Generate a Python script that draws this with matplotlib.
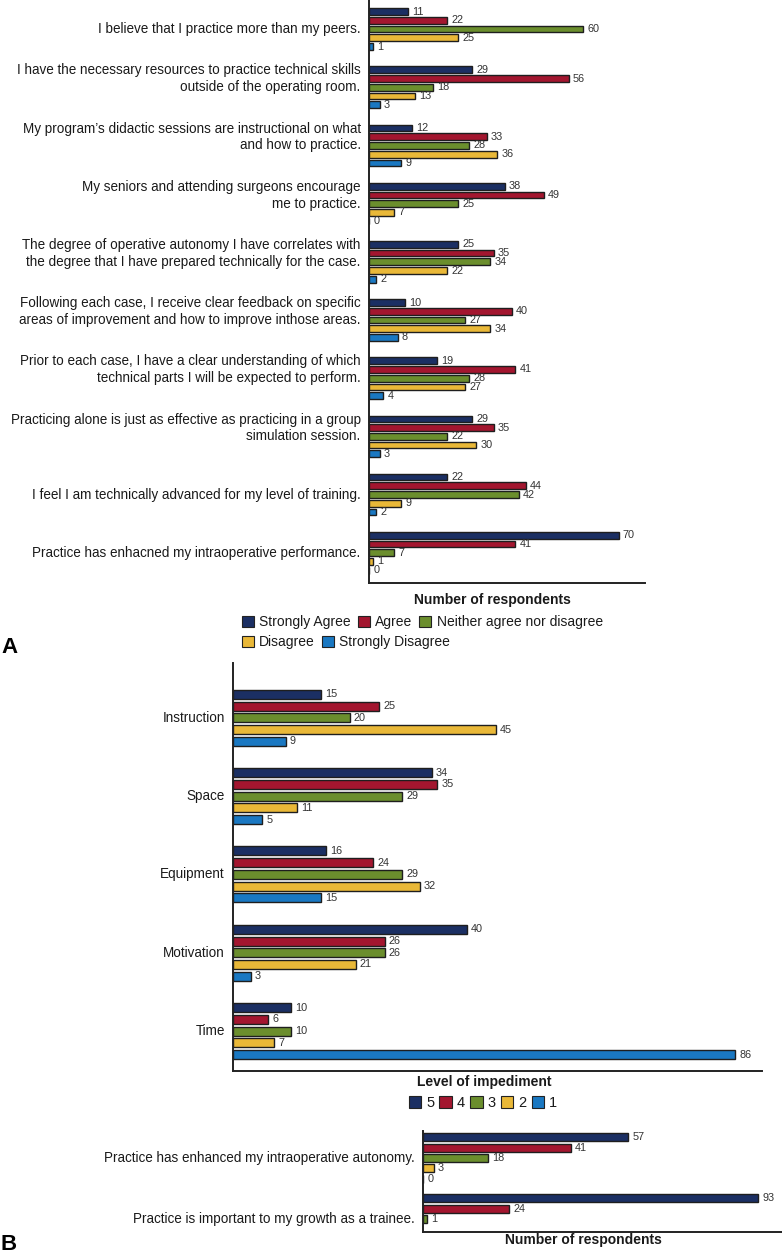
import matplotlib
matplotlib.use("Agg")
import numpy as np
import matplotlib.pyplot as plt
from matplotlib.patches import Patch
from matplotlib.transforms import blended_transform_factory, offset_copy

plt.rcParams['font.family'] = ['Liberation Sans', 'DejaVu Sans']

colors = ['#1b2f63', '#a3162f', '#6b8e2d', '#e9b838', '#1a78c2']

# Panel A
statements = [
    "I believe that I practice more than my peers.",
    "I have the necessary resources to practice technical skills\noutside of the operating room.",
    "My program\u2019s didactic sessions are instructional on what\nand how to practice.",
    "My seniors and attending surgeons encourage\nme to practice.",
    "The degree of operative autonomy I have correlates with\nthe degree that I have prepared technically for the case.",
    "Following each case, I receive clear feedback on specific\nareas of improvement and how to improve inthose areas.",
    "Prior to each case, I have a clear understanding of which\ntechnical parts I will be expected to perform.",
    "Practicing alone is just as effective as practicing in a group\nsimulation session.",
    "I feel I am technically advanced for my level of training.",
    "Practice has enhacned my intraoperative performance.",
]
agree_levels = ['Strongly Agree', 'Agree', 'Neither agree nor disagree',
                'Disagree', 'Strongly Disagree']
strongly_agree = [11, 29, 12, 38, 25, 10, 19, 29, 22, 70]
agree = [22, 56, 33, 49, 35, 40, 41, 35, 44, 41]
neither = [60, 18, 28, 25, 34, 27, 28, 22, 42, 7]
disagree = [25, 13, 36, 7, 22, 34, 27, 30, 9, 1]
strongly_disagree = [1, 3, 9, 0, 2, 8, 4, 3, 2, 0]

# Panel B (impediments)
impediments = ['Instruction', 'Space', 'Equipment', 'Motivation', 'Time']
impediment_levels = ['5', '4', '3', '2', '1']
lvl5 = [15, 34, 16, 40, 10]
lvl4 = [25, 35, 24, 26, 6]
lvl3 = [20, 29, 29, 26, 10]
lvl2 = [45, 11, 32, 21, 7]
lvl1 = [9, 5, 15, 3, 86]

# Panel B (bottom statements)
statements_b = ["Practice has enhanced my intraoperative autonomy.",
                "Practice is important to my growth as a trainee."]
sa_b = [57, 93]
a_b = [41, 24]
n_b = [18, 1]
d_b = [3, np.nan]
sd_b = [0, np.nan]

W, H = 782, 1259
fig = plt.figure(figsize=(W / 100, H / 100), dpi=100)


def px_axes(l, t, r, b):
    return fig.add_axes([l / W, 1 - b / H, (r - l) / W, (b - t) / H])


def draw_bars(ax, series, step, height, fs_val=7.8):
    n = len(series[0])
    for k, vals in enumerate(series):
        y = np.arange(n) + (k - 2) * step
        v = np.array(vals, dtype=float)
        ok = ~np.isnan(v)
        ax.barh(y[ok], v[ok], height=height, color=colors[k],
                edgecolor='#1e1e1e', linewidth=1.0)
        for yy, vv in zip(y[ok], v[ok]):
            ax.annotate(f"{int(vv)}", (vv, yy), xytext=(3, 0),
                        textcoords='offset points', va='center', ha='left',
                        fontsize=fs_val, color='#333333')
    for s in ['top', 'right']:
        ax.spines[s].set_visible(False)
    for s in ['left', 'bottom']:
        ax.spines[s].set_linewidth(1.4)
        ax.spines[s].set_color('#222222')
    ax.set_xticks([])
    ax.set_yticks([])


def label_groups(ax, labels, fs, dy=-5):
    tr = blended_transform_factory(ax.transAxes, ax.transData)
    tr = offset_copy(tr, fig=fig, x=-6, y=dy, units='points')
    for i, lab in enumerate(labels):
        ax.text(0, i, lab, transform=tr, ha='right', va='bottom',
                fontsize=fs, color='#1a1a1a', linespacing=1.25)


# A
axA = px_axes(369, 0, 645, 583)
draw_bars(axA, [strongly_agree, agree, neither, disagree, strongly_disagree], 0.15, 0.115)
axA.set_xlim(0, 77.4)
axA.set_ylim(9.52, -0.5)
label_groups(axA, statements, 9.75)

fig.text(492 / W, 1 - 600 / H, 'Number of respondents', ha='center', va='center',
         fontsize=10, fontweight='bold', color='#1a1a1a')
handles = [Patch(facecolor=c, edgecolor='#222222', linewidth=0.8) for c in colors]
leg_kw = dict(frameon=False, handlelength=0.85, handleheight=0.85, handletextpad=0.4,
              columnspacing=0.5, fontsize=10, borderpad=0, borderaxespad=0,
              labelcolor='#1a1a1a')
fig.legend(handles[:3], agree_levels[:3], ncol=3, loc='center left',
           bbox_to_anchor=(242 / W, 1 - 622 / H), **leg_kw)
fig.legend(handles[3:], agree_levels[3:], ncol=2, loc='center left',
           bbox_to_anchor=(242 / W, 1 - 642 / H), **leg_kw)
fig.text(9 / W, 1 - 647 / H, 'A', ha='center', va='center', fontsize=16, fontweight='bold')

# B top
axB = px_axes(233, 663, 762, 1071)
draw_bars(axB, [lvl5, lvl4, lvl3, lvl2, lvl1], 0.15, 0.115)
axB.set_xlim(0, 90.6)
axB.set_ylim(4.51, -0.70)
label_groups(axB, impediments, 9.75)
fig.text(484 / W, 1 - 1082 / H, 'Level of impediment', ha='center', va='center',
         fontsize=10, fontweight='bold', color='#1a1a1a')
fig.legend(handles, impediment_levels, ncol=5, loc='center',
           bbox_to_anchor=(483 / W, 1 - 1103 / H),
           **{**leg_kw, 'columnspacing': 0.35, 'handletextpad': 0.35, 'fontsize': 10.5})

# B bottom
axC = px_axes(423, 1131, 782, 1232)
draw_bars(axC, [sa_b, a_b, n_b, d_b, sd_b], 0.17, 0.13)
axC.set_xlim(0, 99.7)
axC.set_ylim(1.21, -0.44)
label_groups(axC, statements_b, 9.75)
fig.text(583 / W, 1 - 1240 / H, 'Number of respondents', ha='center', va='center',
         fontsize=10, fontweight='bold', color='#1a1a1a')
fig.text(9 / W, 1 - 1245 / H, 'B', ha='center', va='center', fontsize=16, fontweight='bold')

fig.savefig('out.png', dpi=100)
